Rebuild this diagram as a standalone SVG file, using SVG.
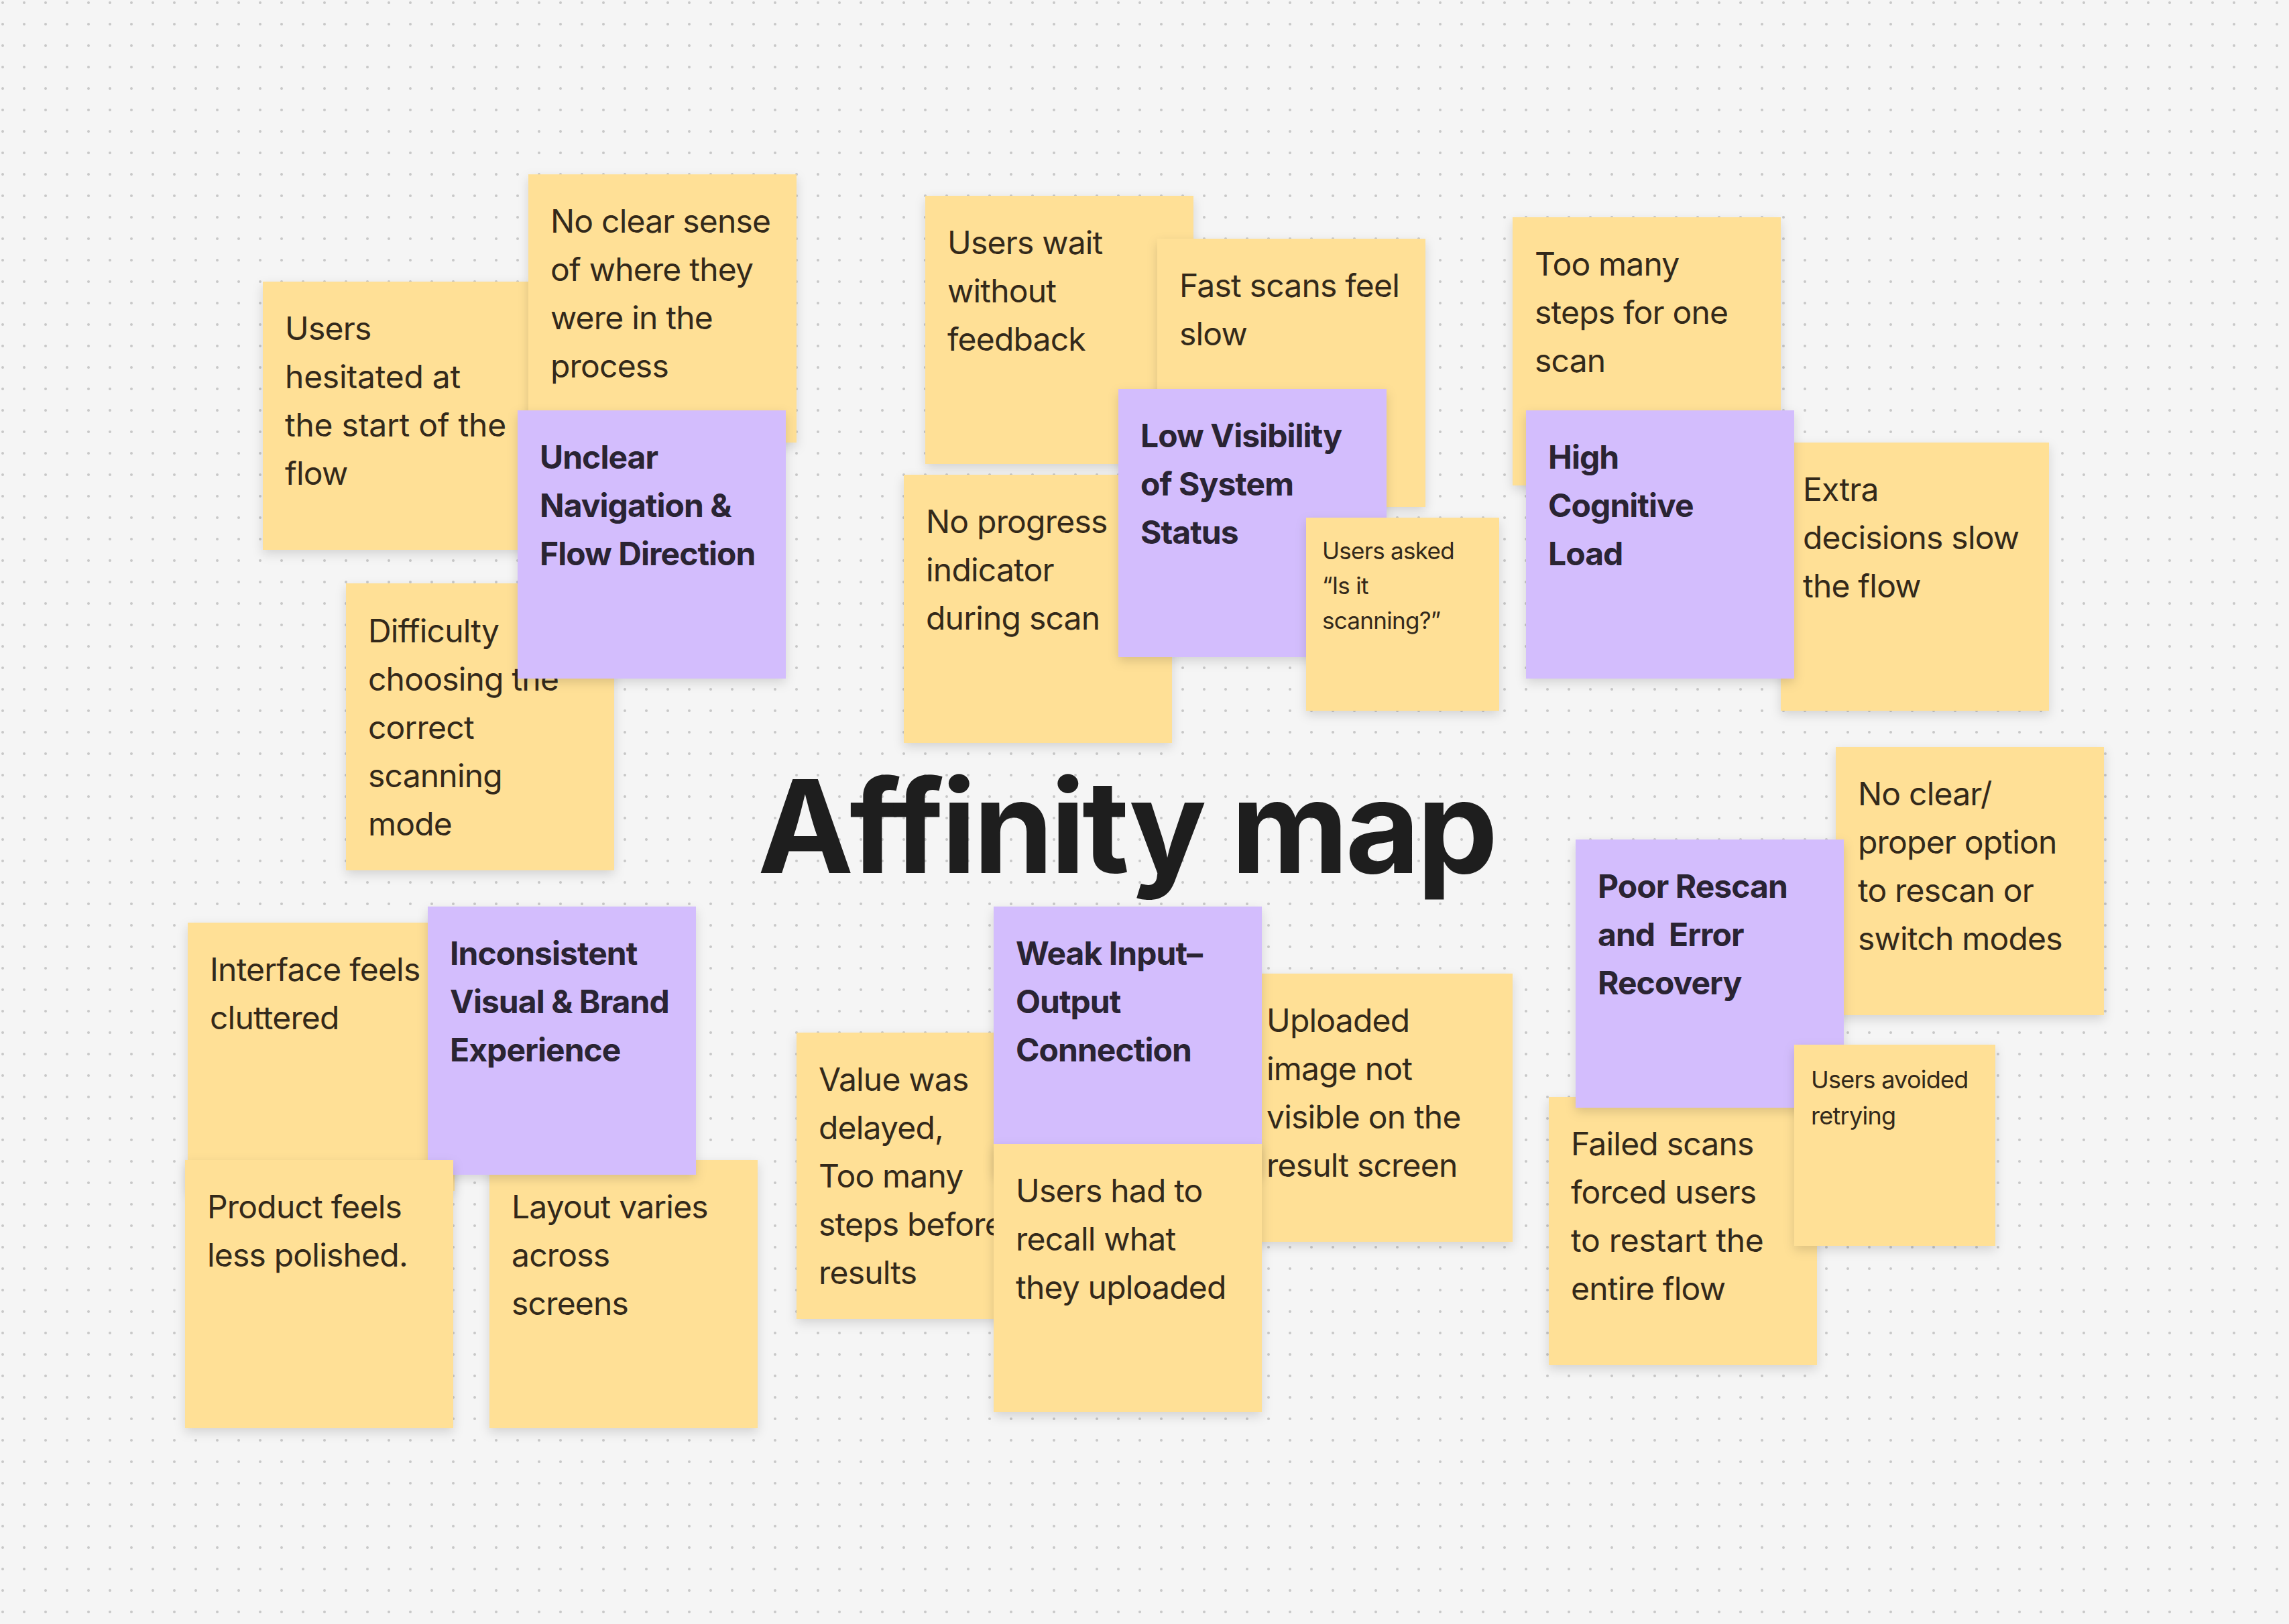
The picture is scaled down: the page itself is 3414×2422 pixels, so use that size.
<svg xmlns="http://www.w3.org/2000/svg" width="3414" height="2422" viewBox="0 0 3414 2422">
<style>
.y{fill:#ffe096}
.p{fill:#d3bdfd}
.s{filter:url(#sh)}
text{font-family:"Inter","Liberation Sans",sans-serif}
.t{font-size:48px;fill:#33291a;font-weight:400;letter-spacing:-0.8px}
.w{letter-spacing:-0.25px}
.h{font-size:48px;fill:#2a2433;font-weight:700;letter-spacing:-0.96px}
.m{font-size:36px;fill:#33291a;font-weight:400;letter-spacing:-0.72px}
.n{font-size:35px}
.title{font-size:192px;font-weight:700;fill:#1e1e1e;letter-spacing:-4.6px}
</style>
<defs>
<pattern id="dots" width="32" height="32" patternUnits="userSpaceOnUse"><circle cx="4" cy="4" r="2" fill="#c8c8c8"/></pattern>
<filter id="sh" x="-15%" y="-15%" width="130%" height="135%"><feDropShadow dx="0" dy="6" stdDeviation="8" flood-color="#000" flood-opacity="0.14"/></filter>
</defs>
<rect width="3414" height="2422" fill="#f5f5f5"/>
<rect width="3414" height="2422" fill="url(#dots)"/>
<g id="n-hesitated"><rect class="y s" x="392" y="420" width="400" height="400"/><text class="t" y="507"><tspan x="425">Users</tspan><tspan class="w" x="425" dy="72">hesitated at</tspan><tspan class="w" x="425" dy="72">the start of the</tspan><tspan x="425" dy="72">flow</tspan></text></g>
<g id="n-sense"><rect class="y s" x="788" y="260" width="400" height="400"/><text class="t" y="347"><tspan x="821">No clear sense</tspan><tspan x="821" dy="72">of where they</tspan><tspan x="821" dy="72">were in the</tspan><tspan x="821" dy="72">process</tspan></text></g>
<g id="n-difficulty"><rect class="y s" x="516" y="870" width="400" height="428"/><text class="t" y="958"><tspan x="549">Difficulty</tspan><tspan x="549" dy="72">choosing the</tspan><tspan x="549" dy="72">correct</tspan><tspan x="549" dy="72">scanning</tspan><tspan x="549" dy="72">mode</tspan></text></g>
<g id="n-unclear"><rect class="p s" x="772" y="612" width="400" height="400"/><text class="h" y="699"><tspan x="805">Unclear</tspan><tspan x="805" dy="72">Navigation &amp;</tspan><tspan x="805" dy="72">Flow Direction</tspan></text></g>
<g id="n-wait"><rect class="y s" x="1380" y="292" width="400" height="400"/><text class="t" y="379"><tspan x="1413">Users wait</tspan><tspan x="1413" dy="72">without</tspan><tspan x="1413" dy="72">feedback</tspan></text></g>
<g id="n-fast"><rect class="y s" x="1726" y="356" width="400" height="400"/><text class="t" y="443"><tspan x="1759">Fast scans feel</tspan><tspan x="1759" dy="72">slow</tspan></text></g>
<g id="n-progress"><rect class="y s" x="1348" y="708" width="400" height="400"/><text class="t" y="795"><tspan x="1381">No progress</tspan><tspan x="1381" dy="72">indicator</tspan><tspan x="1381" dy="72">during scan</tspan></text></g>
<g id="n-lowvis"><rect class="p s" x="1668" y="580" width="400" height="400"/><text class="h" y="667"><tspan x="1701">Low Visibility</tspan><tspan x="1701" dy="72">of System</tspan><tspan x="1701" dy="72">Status</tspan></text></g>
<g id="n-asked"><rect class="y s" x="1948" y="772" width="288" height="288"/><text class="m n" y="834"><tspan x="1972">Users asked</tspan><tspan x="1972" dy="52">“Is it</tspan><tspan x="1972" dy="52">scanning?”</tspan></text></g>
<g id="n-toomany"><rect class="y s" x="2256" y="324" width="400" height="400"/><text class="t" y="411"><tspan x="2289">Too many</tspan><tspan x="2289" dy="72">steps for one</tspan><tspan x="2289" dy="72">scan</tspan></text></g>
<g id="n-extra"><rect class="y s" x="2656" y="660" width="400" height="400"/><text class="t" y="747"><tspan x="2689">Extra</tspan><tspan x="2689" dy="72">decisions slow</tspan><tspan x="2689" dy="72">the flow</tspan></text></g>
<g id="n-high"><rect class="p s" x="2276" y="612" width="400" height="400"/><text class="h" y="699"><tspan x="2309">High</tspan><tspan x="2309" dy="72">Cognitive</tspan><tspan x="2309" dy="72">Load</tspan></text></g>
<g id="n-rescan"><rect class="y s" x="2738" y="1114" width="400" height="400"/><text class="t" y="1201"><tspan x="2771">No clear/</tspan><tspan x="2771" dy="72">proper option</tspan><tspan x="2771" dy="72">to rescan or</tspan><tspan x="2771" dy="72">switch modes</tspan></text></g>
<g id="n-failed"><rect class="y s" x="2310" y="1636" width="400" height="400"/><text class="t" y="1723"><tspan x="2343">Failed scans</tspan><tspan x="2343" dy="72">forced users</tspan><tspan class="w" x="2343" dy="72">to restart the</tspan><tspan x="2343" dy="72">entire flow</tspan></text></g>
<g id="n-poor"><rect class="p s" x="2350" y="1252" width="400" height="400"/><text class="h" y="1339" xml:space="preserve"><tspan x="2383">Poor Rescan</tspan><tspan x="2383" dy="72">and  Error</tspan><tspan x="2383" dy="72">Recovery</tspan></text></g>
<g id="n-avoided"><rect class="y s" x="2676" y="1558" width="300" height="300"/><text class="m" y="1623"><tspan x="2701">Users avoided</tspan><tspan x="2701" dy="54">retrying</tspan></text></g>
<g id="n-cluttered"><rect class="y s" x="280" y="1376" width="398" height="400"/><text class="t" y="1463"><tspan x="313">Interface feels</tspan><tspan x="313" dy="72">cluttered</tspan></text></g>
<g id="n-layout"><rect class="y s" x="730" y="1730" width="400" height="400"/><text class="t" y="1817"><tspan x="763">Layout varies</tspan><tspan x="763" dy="72">across</tspan><tspan x="763" dy="72">screens</tspan></text></g>
<g id="n-inconsistent"><rect class="p s" x="638" y="1352" width="400" height="400"/><text class="h" y="1439"><tspan x="671">Inconsistent</tspan><tspan x="671" dy="72">Visual &amp; Brand</tspan><tspan x="671" dy="72">Experience</tspan></text></g>
<g id="n-polished"><rect class="y s" x="276" y="1730" width="400" height="400"/><text class="t" y="1817"><tspan x="309">Product feels</tspan><tspan x="309" dy="72">less polished.</tspan></text></g>
<g id="n-value"><rect class="y s" x="1188" y="1540" width="400" height="427"/><text class="t" y="1627"><tspan x="1221">Value was</tspan><tspan x="1221" dy="72">delayed,</tspan><tspan x="1221" dy="72">Too many</tspan><tspan x="1221" dy="72">steps before</tspan><tspan x="1221" dy="72">results</tspan></text></g>
<g id="n-uploaded"><rect class="y s" x="1856" y="1452" width="400" height="400"/><text class="t" y="1539"><tspan x="1889">Uploaded</tspan><tspan x="1889" dy="72">image not</tspan><tspan x="1889" dy="72">visible on the</tspan><tspan x="1889" dy="72">result screen</tspan></text></g>
<g id="n-weak"><rect class="p s" x="1482" y="1352" width="400" height="400"/><text class="h" y="1439"><tspan x="1515">Weak Input–</tspan><tspan x="1515" dy="72">Output</tspan><tspan x="1515" dy="72">Connection</tspan></text></g>
<g id="n-recall"><rect class="y s" x="1482" y="1706" width="400" height="400"/><text class="t" y="1793"><tspan x="1515">Users had to</tspan><tspan x="1515" dy="72">recall what</tspan><tspan x="1515" dy="72">they uploaded</tspan></text></g>
<text id="title" class="title" x="1130" y="1302">Affinity map</text>
</svg>
